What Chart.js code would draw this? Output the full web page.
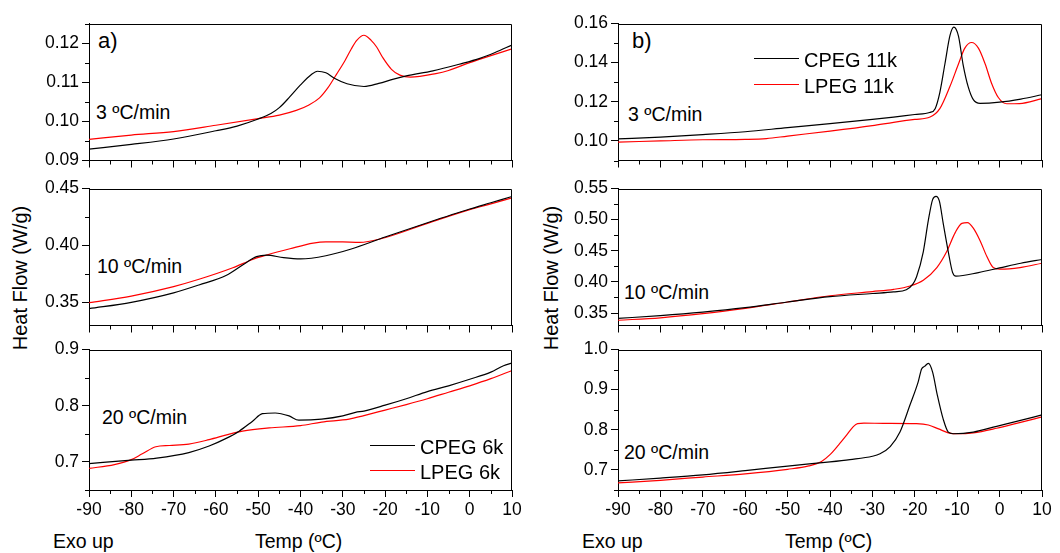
<!DOCTYPE html>
<html>
<head>
<meta charset="utf-8">
<script src="https://cdn.jsdelivr.net/npm/chart.js@4.4.1/dist/chart.umd.min.js"></script>
<style>
  body { margin: 0; background: #fff; width: 1060px; height: 553px; position: relative; overflow: hidden;
         font-family: "Liberation Sans", Arial, sans-serif; color: #000; }
  canvas { position: absolute; }
  .t { position: absolute; white-space: nowrap; font-size: 19.5px; line-height: 1; }
  .tag { font-size: 22px; }
  .ytitle { position: absolute; white-space: nowrap; font-size: 20px; line-height: 1;
            transform: translate(-50%, -50%) rotate(-90deg); }
  .legline { position: absolute; height: 1.3px; }
</style>
</head>
<body>

<div class="t tag" style="left:98px;top:30px">a)</div>
<div class="t tag" style="left:632px;top:30px">b)</div>
<div class="t" style="left:96px;top:102.5px">3 ºC/min</div>
<div class="t" style="left:97px;top:256.5px">10 ºC/min</div>
<div class="t" style="left:102px;top:407.5px">20 ºC/min</div>
<div class="t" style="left:628px;top:104.5px">3 ºC/min</div>
<div class="t" style="left:624px;top:282.5px">10 ºC/min</div>
<div class="t" style="left:624px;top:442.5px">20 ºC/min</div>
<div class="ytitle" style="left:20px;top:278px">Heat Flow (W/g)</div>
<div class="ytitle" style="left:551px;top:278px">Heat Flow (W/g)</div>
<div class="t" style="left:53px;top:531.5px">Exo up</div>
<div class="t" style="left:582px;top:531.5px">Exo up</div>
<div class="t" style="left:255px;top:531.5px">Temp (ºC)</div>
<div class="t" style="left:785px;top:531.5px">Temp (ºC)</div>

<script>
// ---- data ----
const names6k = ["CPEG 6k", "LPEG 6k"];
const names11k = ["CPEG 11k", "LPEG 11k"];

const xTicks = [-90, -80, -70, -60, -50, -40, -30, -20, -10, 0, 10];
const xMinor = [-85, -75, -65, -55, -45, -35, -25, -15, -5, 5];

// a) 6k, 3 C/min
const tC6_3 = [-90, -80, -70, -60, -55, -50, -47, -45, -42.5, -40, -37.5, -36, -34, -32, -29, -25, -21.5, -18, -15, -8.7, -2.5, 2.4, 6, 10];
const cpeg6k_3 = [0.0929, 0.0941, 0.0955, 0.0976, 0.0988, 0.1006, 0.1020, 0.1035, 0.1063, 0.1093, 0.1119, 0.1128, 0.1124, 0.1110, 0.1096, 0.1089, 0.1097, 0.1108, 0.1116, 0.1129, 0.1146, 0.1161, 0.1176, 0.1195];
const tL6_3 = [-90, -80, -70, -60, -50, -45, -41, -38, -35.5, -33.5, -31.5, -29.5, -28, -26.7, -25, -23.3, -22, -20.5, -18.5, -16.5, -14, -8, -5, 0, 5, 10];
const lpeg6k_3 = [0.0954, 0.0965, 0.0974, 0.0990, 0.1007, 0.1016, 0.1028, 0.1042, 0.1060, 0.1086, 0.1120, 0.1155, 0.1185, 0.1207, 0.1220, 0.1207, 0.1190, 0.1162, 0.1133, 0.1118, 0.1113, 0.1122, 0.1130, 0.1150, 0.1168, 0.1185];
const yTicksA1 = [0.09, 0.10, 0.11, 0.12];
const yMinorA1 = [0.095, 0.105, 0.115, 0.125];

// a) 6k, 10 C/min
const tC6_10 = [-90, -80, -70, -64, -57.5, -53.5, -50.4, -48, -44, -40, -34, -28, -20, -10, 0, 5, 10];
const cpeg6k_10 = [0.3447, 0.3503, 0.3586, 0.3655, 0.3740, 0.3835, 0.3903, 0.3917, 0.3894, 0.3883, 0.3911, 0.3970, 0.4075, 0.4200, 0.4320, 0.4375, 0.4430];
const tL6_10 = [-90, -80, -70, -64, -56, -51, -48, -42.5, -37, -34, -30, -26, -21, -10, 0, 5, 10];
const lpeg6k_10 = [0.3500, 0.3558, 0.3641, 0.3705, 0.3806, 0.3883, 0.3917, 0.3972, 0.4022, 0.4033, 0.4032, 0.4028, 0.4060, 0.4195, 0.4315, 0.4365, 0.4418];
const yTicksA2 = [0.35, 0.40, 0.45];
const yMinorA2 = [0.375, 0.425];

// a) 6k, 20 C/min
const tC6_20 = [-90, -80, -74, -66.4, -61.6, -57.7, -54.5, -51.4, -49, -46, -42.7, -40.4, -35, -30, -27, -25, -20, -15, -10, -5, 0, 5, 8, 10];
const cpeg6k_20 = [0.6971, 0.7030, 0.7068, 0.7166, 0.7282, 0.7414, 0.7547, 0.7720, 0.7858, 0.7870, 0.7818, 0.7742, 0.7760, 0.7818, 0.7882, 0.7905, 0.8009, 0.8124, 0.8251, 0.8354, 0.8470, 0.8597, 0.8712, 0.8758];
const tL6_20 = [-90, -84, -80, -77.4, -74.2, -71, -66.4, -61.6, -57, -53.7, -47.4, -40, -35, -28.5, -25, -20, -15, -10, -5, 0, 5, 10];
const lpeg6k_20 = [0.6884, 0.6953, 0.7040, 0.7144, 0.7270, 0.7292, 0.7316, 0.7396, 0.7490, 0.7547, 0.7604, 0.7645, 0.7709, 0.7760, 0.7824, 0.7922, 0.8020, 0.8124, 0.8239, 0.8354, 0.8481, 0.8625];
const yTicksA3 = [0.7, 0.8, 0.9];
const yMinorA3 = [0.65, 0.75, 0.85];

// b) 11k, 3 C/min
const tC11_3 = [-90, -80, -70, -60, -50, -40, -30, -25, -20, -16.5, -15.2, -14.1, -12.9, -11.7, -10.8, -9.7, -8.6, -7.4, -6.2, -4.6, 0, 5, 10];
const cpeg11k_3 = [0.1010, 0.1019, 0.1032, 0.1047, 0.1068, 0.1088, 0.1110, 0.1122, 0.1135, 0.1145, 0.1165, 0.1247, 0.1393, 0.1539, 0.1581, 0.1535, 0.1389, 0.1276, 0.1211, 0.1192, 0.1198, 0.1214, 0.1236];
const tL11_3 = [-90, -80, -70, -60, -55, -50, -40, -30, -25, -20, -16.4, -14.1, -11.7, -9.7, -8.2, -6.6, -5.0, -3.4, -1.9, -0.3, 1.7, 4.7, 10];
const lpeg11k_3 = [0.0994, 0.1000, 0.1006, 0.1008, 0.1012, 0.1025, 0.1050, 0.1078, 0.1095, 0.1110, 0.1122, 0.1165, 0.1279, 0.1393, 0.1474, 0.1503, 0.1474, 0.1393, 0.1295, 0.1222, 0.1190, 0.1191, 0.1216];
const yTicksB1 = [0.10, 0.12, 0.14, 0.16];
const yMinorB1 = [0.09, 0.11, 0.13, 0.15];

// b) 11k, 10 C/min
const tC11_10 = [-90, -80, -70, -60, -50, -40, -30, -25, -22, -20.5, -19.6, -18, -16.8, -15.8, -15, -14.2, -13.3, -12.1, -11.1, -10.3, -5, 0, 5, 10];
const cpeg11k_10 = [0.3414, 0.3459, 0.3515, 0.3586, 0.3677, 0.3763, 0.3814, 0.3840, 0.3875, 0.3960, 0.4078, 0.4484, 0.4992, 0.5322, 0.5373, 0.5297, 0.4941, 0.4484, 0.4154, 0.4093, 0.4150, 0.4225, 0.4300, 0.4360];
const tL11_10 = [-90, -80, -70, -60, -50, -40, -30, -25, -21.1, -18, -14.8, -12.5, -10.5, -8.9, -7.6, -6.2, -4.6, -3, -1.5, 0.1, 4.8, 10];
const lpeg11k_10 = [0.3384, 0.3424, 0.3490, 0.3576, 0.3677, 0.3778, 0.3845, 0.3880, 0.3935, 0.4026, 0.4230, 0.4484, 0.4788, 0.4941, 0.4951, 0.4864, 0.4662, 0.4407, 0.4230, 0.4204, 0.4230, 0.4300];
const yTicksB2 = [0.35, 0.40, 0.45, 0.50, 0.55];
const yMinorB2 = [0.375, 0.425, 0.475, 0.525];

// b) 11k, 20 C/min
const tC11_20 = [-90, -80, -70, -60, -50, -40, -35.3, -30, -28.2, -25.8, -23.5, -21.1, -19.2, -18.4, -17.7, -16.8, -15.8, -14.7, -13.3, -12.1, -10.9, -6.2, -0.7, 4, 10];
const cpeg11k_20 = [0.6726, 0.6798, 0.6879, 0.6984, 0.7097, 0.7200, 0.7257, 0.7340, 0.7402, 0.7579, 0.7942, 0.8628, 0.9193, 0.9516, 0.9580, 0.9653, 0.9435, 0.8870, 0.8264, 0.7942, 0.7901, 0.7942, 0.8087, 0.8208, 0.8370];
const tL11_20 = [-90, -80, -70, -60, -50, -45, -42, -40, -38, -36, -34.5, -33.5, -32, -27.4, -19.6, -16.8, -14.4, -12.1, -10.1, -6.2, -0.7, 4, 10];
const lpeg11k_20 = [0.6677, 0.6742, 0.6823, 0.6903, 0.7016, 0.7100, 0.7210, 0.7380, 0.7620, 0.7880, 0.8080, 0.8155, 0.8165, 0.8160, 0.8152, 0.8119, 0.8022, 0.7925, 0.7901, 0.7925, 0.8039, 0.8160, 0.8320];
const yTicksB3 = [0.7, 0.8, 0.9, 1.0];
const yMinorB3 = [0.65, 0.75, 0.85, 0.95];

const FONT = '"Liberation Sans", Arial, sans-serif';
const BLACK = "#000000", RED = "#ff0000";

const pts = (t, v) => t.map((x, i) => ({ x: x, y: v[i] }));

// minor ticks + top/right frame
const minorTicks = {
  id: "minorTicks",
  afterDraw(chart, args, opts) {
    const ctx = chart.ctx, a = chart.chartArea;
    const sx = chart.scales.x, sy = chart.scales.y;
    ctx.save();
    ctx.strokeStyle = "#000";
    ctx.lineWidth = 1;
    ctx.beginPath();
    opts.x.forEach(v => {
      const px = Math.round(sx.getPixelForValue(v)) + 0.5;
      ctx.moveTo(px, a.bottom); ctx.lineTo(px, a.bottom + 4);
    });
    opts.y.forEach(v => {
      const py = Math.round(sy.getPixelForValue(v)) + 0.5;
      ctx.moveTo(a.left, py); ctx.lineTo(a.left - 4, py);
    });
    const top = Math.round(a.top) + 0.5, right = Math.round(a.right) - 0.5;
    ctx.moveTo(a.left, top); ctx.lineTo(right, top); ctx.lineTo(right, a.bottom);
    ctx.stroke();
    ctx.restore();
  }
};

function panel(box, yMin, yMax, yTicks, yMinor, dec, tC, vC, tL, vL, showX) {
  const YW = 70, PADR = 22, PADT = 10, XH = showX ? 34 : 10;
  const cv = document.createElement("canvas");
  cv.width = YW + (box.r - box.l) + PADR;
  cv.height = PADT + box.h + XH;
  cv.style.left = (box.l - YW) + "px";
  cv.style.top = (box.t - PADT) + "px";
  document.body.appendChild(cv);

  new Chart(cv, {
    type: "line",
    data: {
      datasets: [
        { data: pts(tC, vC), borderColor: BLACK },
        { data: pts(tL, vL), borderColor: RED }
      ]
    },
    plugins: [minorTicks],
    options: {
      responsive: false, animation: false, devicePixelRatio: 1,
      layout: { autoPadding: false, padding: { left: 0, right: PADR, top: PADT, bottom: 0 } },
      elements: { point: { radius: 0 }, line: { borderWidth: 1.2, cubicInterpolationMode: "monotone" } },
      plugins: { legend: { display: false }, tooltip: { enabled: false }, minorTicks: { x: xMinor, y: yMinor } },
      scales: {
        x: {
          type: "linear", min: -90, max: 10,
          afterBuildTicks: s => { s.ticks = xTicks.map(v => ({ value: v })); },
          afterFit: s => { s.height = XH; },
          grid: { drawOnChartArea: false, tickLength: 7, tickColor: "#000", tickWidth: 1 },
          border: { color: "#000", width: 1 },
          ticks: { display: showX, color: "#000", font: { family: FONT, size: 17.5 }, padding: 3,
                   maxRotation: 0, autoSkip: false, callback: v => String(v) }
        },
        y: {
          type: "linear", min: yMin, max: yMax,
          afterBuildTicks: s => { s.ticks = yTicks.map(v => ({ value: v })); },
          afterFit: s => { s.width = YW; },
          grid: { drawOnChartArea: false, tickLength: 7, tickColor: "#000", tickWidth: 1 },
          border: { color: "#000", width: 1 },
          ticks: { color: "#000", font: { family: FONT, size: 17.5 }, padding: 3,
                   callback: v => Number(v).toFixed(dec) }
        }
      }
    }
  });
}

const colL = { l: 89, r: 512 }, colR = { l: 618, r: 1042 };
const rowTop = [20, 185, 346], rowH = 144;

panel({ ...colL, t: rowTop[0], h: rowH }, 0.09, 0.125, yTicksA1, yMinorA1, 2, tC6_3, cpeg6k_3, tL6_3, lpeg6k_3, false);
panel({ ...colL, t: rowTop[1], h: rowH }, 0.33, 0.45, yTicksA2, yMinorA2, 2, tC6_10, cpeg6k_10, tL6_10, lpeg6k_10, false);
panel({ ...colL, t: rowTop[2], h: rowH }, 0.65, 0.9, yTicksA3, yMinorA3, 1, tC6_20, cpeg6k_20, tL6_20, lpeg6k_20, true);
panel({ ...colR, t: rowTop[0], h: rowH }, 0.09, 0.16, yTicksB1, yMinorB1, 2, tC11_3, cpeg11k_3, tL11_3, lpeg11k_3, false);
panel({ ...colR, t: rowTop[1], h: rowH }, 0.33, 0.55, yTicksB2, yMinorB2, 2, tC11_10, cpeg11k_10, tL11_10, lpeg11k_10, false);
panel({ ...colR, t: rowTop[2], h: rowH }, 0.65, 1.0, yTicksB3, yMinorB3, 1, tC11_20, cpeg11k_20, tL11_20, lpeg11k_20, true);

// legends
function legend(names, x, y, gap, size) {
  [BLACK, RED].forEach((c, i) => {
    const ln = document.createElement("div");
    ln.className = "legline";
    ln.style.cssText = `left:${x}px;top:${y + i * gap}px;width:45px;background:${c}`;
    document.body.appendChild(ln);
    const tx = document.createElement("div");
    tx.className = "t";
    tx.style.cssText = `left:${x + 50}px;top:${y + i * gap - 8}px;font-size:${size}px`;
    tx.textContent = names[i];
    document.body.appendChild(tx);
  });
}
legend(names6k, 370, 445, 25, 20);
legend(names11k, 754, 58, 26, 20);
</script>
</body>
</html>
